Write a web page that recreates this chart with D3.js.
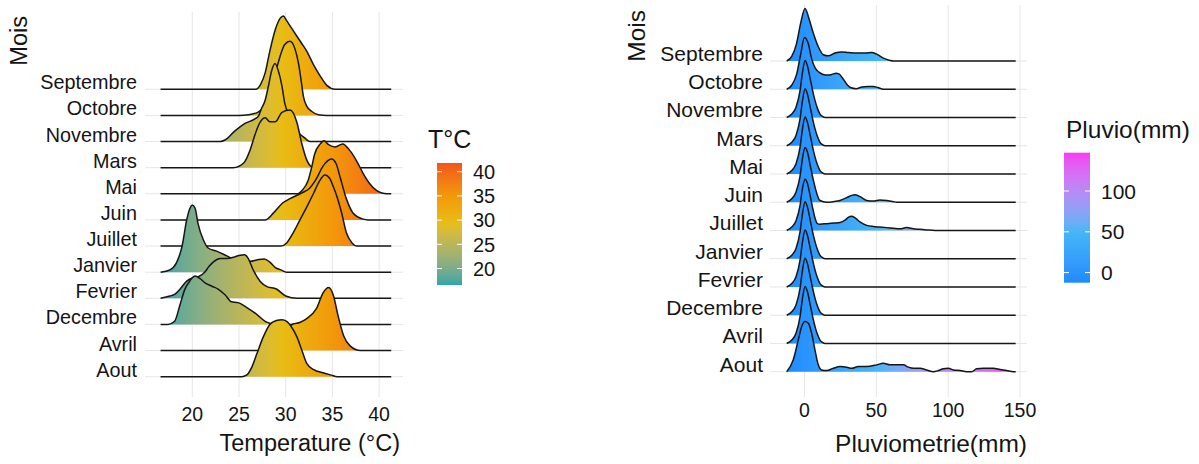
<!DOCTYPE html>
<html><head><meta charset="utf-8">
<script src="https://cdn.jsdelivr.net/npm/d3@7"></script>
<style>body{margin:0;background:#fff}svg{display:block;font-family:"Liberation Sans",Arial,sans-serif}</style>
</head><body><svg id="c" width="1199" height="464"></svg>
<script>
// ---------- DATA ----------
const months = ["Septembre","Octobre","Novembre","Mars","Mai","Juin","Juillet","Janvier","Fevrier","Decembre","Avril","Aout"];

// Temperature densities (relative), [°C, density]
const tSeptembre = [[26.8,0],[27.3,.06],[27.8,.21],[28.3,.49],[28.9,.77],[29.4,.91],[29.75,.94],[30.1,.88],[30.65,.78],[31.2,.68],[31.7,.59],[32.25,.49],[33,.31],[33.7,.17],[34.4,.05],[35.3,0]];
const tOctobre = [[25,0],[26,.01],[27,.04],[27.5,.09],[28,.21],[28.5,.38],[29,.59],[29.4,.76],[29.9,.91],[30.46,.95],[31,.85],[31.35,.68],[31.64,.46],[31.9,.24],[32.25,.12],[32.8,.05],[33.5,.01],[34.4,0]];
const tNovembre = [[23,0],[23.5,.02],[24.6,.14],[25.6,.23],[26.7,.29],[27.1,.33],[27.4,.42],[27.8,.53],[28.15,.71],[28.5,.91],[28.86,1],[29.2,.91],[29.6,.71],[29.9,.49],[30.5,.32],[31,.18],[31.5,.10],[32,.05],[32.6,0]];
const tMars = [[24.4,0],[25.5,.06],[26.2,.23],[26.7,.42],[27.25,.58],[27.8,.64],[28.3,.59],[28.9,.59],[29.6,.71],[30.46,.74],[31.2,.58],[31.7,.32],[32.25,.10],[32.8,.01],[33.3,0]];
const tMai = [[31.2,0],[31.8,.05],[32.4,.17],[32.8,.35],[33.1,.51],[33.7,.64],[34.1,.68],[34.6,.63],[35.3,.60],[36.1,.64],[36.9,.55],[37.6,.42],[38.3,.26],[39,.13],[39.75,.04],[40.3,.01],[40.8,0]];
const tJuin = [[27.8,0],[28.7,.09],[29.7,.22],[30.4,.27],[31.1,.31],[31.8,.35],[32.5,.40],[33.2,.51],[34,.69],[34.9,.78],[35.4,.72],[35.8,.56],[36.5,.27],[37.2,.09],[38.3,.01],[38.8,0]];
const tJuillet = [[29.5,0],[30.1,.04],[30.8,.17],[31.5,.33],[32.25,.50],[33,.68],[33.6,.83],[34.2,.91],[34.7,.87],[35.1,.76],[35.5,.63],[36,.42],[36.5,.17],[37.1,.04],[37.6,0]];
const tJanvier = [[16.6,0],[17.6,.03],[18.3,.12],[18.9,.33],[19.4,.67],[19.75,.82],[20,.86],[20.3,.82],[20.6,.63],[21.2,.41],[21.7,.31],[22.6,.27],[23.7,.21],[24.75,.15],[26.2,.14],[27,.16],[27.7,.17],[28.3,.13],[28.9,.06],[29.5,.03],[30.1,0]];
const tFevrier = [[16.6,0],[17.6,.03],[18.1,.05],[18.7,.12],[19.4,.22],[20,.26],[20.7,.28],[21.3,.33],[21.8,.41],[22.3,.47],[23,.51],[23.7,.51],[24.5,.53],[25,.55],[25.6,.56],[26,.51],[26.5,.37],[27.25,.22],[28,.15],[29,.12],[30,.03],[31.2,0]];
const tDecembre = [[17.4,0],[18.1,.04],[18.7,.26],[19.2,.45],[19.75,.56],[20.3,.62],[20.8,.59],[21.4,.53],[22.1,.49],[22.8,.45],[23.5,.38],[24.2,.29],[24.9,.28],[25.8,.22],[26.9,.13],[27.8,.04],[28.5,.01],[29,0]];
const tAvril = [[27,0],[28,.08],[29,.19],[30,.28],[30.8,.34],[31.5,.36],[32.25,.41],[33.3,.54],[34,.74],[34.6,.81],[35.1,.71],[35.6,.45],[36.2,.19],[36.9,.06],[38,0]];
const tAout = [[25.3,0],[25.8,.02],[26.4,.13],[26.9,.29],[27.6,.51],[28.3,.67],[29,.72],[29.6,.73],[30.1,.71],[30.6,.64],[31.2,.51],[31.7,.35],[32.25,.17],[33,.09],[34,.05],[34.9,.02],[35.5,0]];
const tempCurves = [tSeptembre,tOctobre,tNovembre,tMars,tMai,tJuin,tJuillet,tJanvier,tFevrier,tDecembre,tAvril,tAout];
const tempRange = [16.6, 41.3];
const tempTicks = [20,25,30,35,40];
const tempLegendTicks = [20,25,30,35,40];
const tempColorDomain = [16.6, 29.5, 35, 41.8];

// Rainfall densities (relative), [mm, density]
const pSeptembre = [[-12.4,0],[-8.9,.08],[-5.5,.31],[-2.7,.66],[0.35,.92],[3.4,.72],[6.1,.49],[9.6,.25],[13.1,.11],[16.6,.09],[21.2,.14],[25.9,.16],[30.5,.15],[36.3,.14],[42.1,.14],[46.8,.15],[50.2,.12],[54.9,.05],[59.5,.01],[62,0]];
const pOctobre = [[-12.4,0],[-8.9,.07],[-5.5,.26],[-2.7,.61],[0,.91],[2.5,.81],[5,.53],[7.5,.37],[10,.30],[13,.26],[16,.25],[19,.26],[22,.28],[24,.27],[26,.21],[28,.14],[30,.07],[32,.03],[36,.01],[40,.04],[44,.05],[48,.05],[51,.03],[55,0]];
const pNovembre = [[-12.4,0],[-8.9,.06],[-5.9,.18],[-3.1,.47],[-1.4,.79],[0.4,1],[2,.91],[3.8,.70],[5.5,.49],[7.3,.30],[9,.16],[10.8,.06],[12.5,.02],[14.3,0]];
const pMars = [[-12.4,0],[-8.9,.06],[-5.9,.18],[-3.1,.47],[-1.4,.79],[0.4,1],[2,.91],[3.8,.70],[5.5,.49],[7.3,.30],[9,.16],[10.8,.06],[12.5,.02],[14.3,0]];
const pMai = [[-12.4,0],[-8.9,.06],[-5.9,.18],[-3.1,.47],[-1.4,.79],[0.4,1],[2,.91],[3.8,.70],[5.5,.49],[7.3,.30],[9,.16],[10.8,.06],[12.5,.02],[14.3,0]];
const pJuin = [[-12.4,0],[-8.9,.06],[-5.9,.18],[-3.1,.46],[-1.4,.77],[0.4,.96],[2,.88],[3.8,.67],[5.5,.46],[7.3,.27],[9,.12],[10.8,.03],[15.4,0],[20.1,.01],[24.7,.03],[29.4,.08],[32.8,.12],[35.2,.13],[39.8,.08],[43.3,.03],[47.9,.02],[52.5,.04],[57.2,.03],[61.8,.01],[64.2,0]];
const pJuillet = [[-12.4,0],[-8.9,.06],[-5.9,.17],[-3.1,.44],[-1.4,.74],[0.4,.90],[2,.83],[3.8,.63],[5.5,.42],[7.3,.22],[9,.12],[10.8,.11],[15.4,.12],[20.1,.13],[24.7,.14],[28.2,.18],[30.5,.23],[32.8,.25],[35.2,.22],[38.6,.15],[43.3,.09],[47.9,.07],[52.5,.06],[57.2,.05],[61.8,.04],[66.5,.03],[71.1,.05],[75.8,.03],[80.4,.02],[85,.01],[90.8,0]];
const pJanvier = [[-12.4,0],[-8.9,.06],[-5.9,.18],[-3.1,.47],[-1.4,.79],[0.4,1],[2,.91],[3.8,.70],[5.5,.49],[7.3,.30],[9,.16],[10.8,.06],[12.5,.02],[14.3,0]];
const pFevrier = [[-12.4,0],[-8.9,.06],[-5.9,.18],[-3.1,.47],[-1.4,.79],[0.4,1],[2,.91],[3.8,.70],[5.5,.49],[7.3,.30],[9,.16],[10.8,.06],[12.5,.02],[14.3,0]];
const pDecembre = [[-12.4,0],[-8.9,.06],[-5.9,.18],[-3.1,.47],[-1.4,.79],[0.4,1],[2,.91],[3.8,.70],[5.5,.49],[7.3,.30],[9,.16],[10.8,.06],[12.5,.02],[14.3,0]];
const pAvril = [[-12.4,0],[-8.9,.06],[-5.9,.18],[-3.1,.47],[-1.4,.79],[0.4,1],[2,.91],[3.8,.70],[5.5,.49],[7.3,.30],[9,.16],[10.8,.06],[12.5,.02],[14.3,0]];
const pAout = [[-12.4,0],[-7.8,.21],[-4.3,.56],[-2,.79],[0.35,.88],[2.7,.85],[5,.67],[7.3,.38],[9.6,.12],[11.9,.03],[15.4,.02],[20.1,.06],[24.7,.09],[29.4,.08],[32.8,.06],[37.5,.09],[43.3,.09],[50.2,.12],[54.9,.15],[59.5,.12],[64.2,.12],[68.8,.12],[72.3,.08],[75.8,.06],[80.4,.06],[85,.03],[89.7,0],[93.2,.02],[96.6,.05],[100.1,.06],[103.6,.03],[108.3,.02],[112.9,0],[116.4,0],[119.8,.05],[124.5,.06],[131.4,.06],[136.1,.04],[140.7,.02],[145.4,0]];
const rainCurves = [pSeptembre,pOctobre,pNovembre,pMars,pMai,pJuin,pJuillet,pJanvier,pFevrier,pDecembre,pAvril,pAout];
const rainRange = [-12.4, 147];
const rainTicks = [0,50,100,150];
const rainLegendTicks = [0,50,100];
const rainColorDomain = [-12.4, 50, 147];

// ---------- DRAWING ----------
const svg = d3.select("#c");
const defs = svg.append("defs");
const TXT = "#141414";

function gradient(id, color, dom, x1, x2, y1, y2) {
  const g = defs.append("linearGradient").attr("id", id).attr("gradientUnits", "userSpaceOnUse")
    .attr("x1", x1).attr("x2", x2).attr("y1", y1).attr("y2", y2);
  const lo = dom[0], hi = dom[dom.length - 1];
  d3.range(41).forEach(i => {
    const v = lo + (hi - lo) * i / 40;
    g.append("stop").attr("offset", i / 40).attr("stop-color", color(v));
  });
}

function panel(c) {
  const g = svg.append("g");
  // grid
  g.selectAll(".vg").data(c.ticks).join("line")
    .attr("x1", d => c.x(d)).attr("x2", d => c.x(d)).attr("y1", c.gridTop).attr("y2", c.gridBottom)
    .attr("stroke", "#e6e6e6").attr("stroke-width", 1);
  g.selectAll(".hg").data(months).join("line")
    .attr("x1", c.gridLeft).attr("x2", c.gridRight).attr("y1", d => c.y(d)).attr("y2", d => c.y(d))
    .attr("stroke", "#e6e6e6").attr("stroke-width", 1);

  // gradient for fill
  gradient(c.gradId, c.color, c.colorDomain, c.x(c.colorDomain[0]), c.x(c.colorDomain[c.colorDomain.length-1]), 0, 0);

  // ridges (top first so lower rows overlay)
  months.forEach((m, i) => {
    const base = c.y(m);
    let pts = c.curves[i].slice();
    if (pts[0][0] > c.range[0]) pts.unshift([c.range[0], 0]);
    if (pts[pts.length-1][0] < c.range[1]) pts.push([c.range[1], 0]);
    const area = d3.area().x(d => c.x(d[0])).y0(base).y1(d => base - d[1] * c.H).curve(d3.curveMonotoneX);
    const line = d3.line().x(d => c.x(d[0])).y(d => base - d[1] * c.H).curve(d3.curveMonotoneX);
    g.append("path").attr("d", area(pts)).attr("fill", `url(#${c.gradId})`);
    g.append("path").attr("d", line(pts)).attr("fill", "none").attr("stroke", "#161616").attr("stroke-width", 1.5).attr("stroke-linejoin", "round");
  });

  // y labels
  g.selectAll(".yl").data(months).join("text")
    .attr("x", c.labelX).attr("y", d => c.y(d)).attr("text-anchor", "end")
    .attr("font-size", c.labelSize).attr("fill", TXT).text(d => d);

  // x tick labels
  g.selectAll(".xl").data(c.ticks).join("text")
    .attr("x", d => c.x(d)).attr("y", c.tickY).attr("text-anchor", "middle")
    .attr("font-size", c.tickSize).attr("fill", TXT).text(d => d);

  // titles
  g.append("text").attr("x", c.xTitleX).attr("y", c.xTitleY).attr("text-anchor", "end")
    .attr("font-size", c.titleSize).attr("fill", TXT).text(c.xTitle);
  g.append("text").attr("transform", `translate(${c.yTitleX},${c.yTitleY}) rotate(-90)`).attr("text-anchor", "end")
    .attr("font-size", c.titleSize).attr("fill", TXT).text("Mois");

  // legend
  const L = c.legend;
  const ly = d3.scaleLinear().domain([c.colorDomain[0], c.colorDomain[c.colorDomain.length-1]]).range([L.y1, L.y0]);
  gradient(c.gradId + "v", c.color, c.colorDomain, 0, 0, L.y1, L.y0);
  g.append("text").attr("x", L.titleX).attr("y", L.titleY).attr("font-size", L.titleSize).attr("fill", TXT).text(L.title);
  g.append("rect").attr("x", L.x).attr("y", L.y0).attr("width", L.w).attr("height", L.y1 - L.y0).attr("fill", `url(#${c.gradId}v)`);
  L.ticks.forEach(t => {
    const yy = ly(t);
    g.append("line").attr("x1", L.x).attr("x2", L.x + 5).attr("y1", yy).attr("y2", yy).attr("stroke", "#fff").attr("stroke-width", 1);
    g.append("line").attr("x1", L.x + L.w - 5).attr("x2", L.x + L.w).attr("y1", yy).attr("y2", yy).attr("stroke", "#fff").attr("stroke-width", 1);
    g.append("text").attr("x", L.labelX).attr("y", yy).attr("dy", "0.36em").attr("font-size", L.labelSize).attr("fill", TXT).text(t);
  });
}

// Left panel: temperature
const xT = d3.scaleLinear().domain([20, 40]).range([192.3, 379.1]);
const yT = d3.scalePoint().domain(months).range([89.3, 376.7]);
const cT = d3.scaleLinear().domain(tempColorDomain).range(["#2aa6a8", "#e8bd14", "#f2980a", "#f2541a"]).interpolate(d3.interpolateLab);
panel({
  x: xT, y: yT, curves: tempCurves, range: tempRange, H: 78, color: cT, colorDomain: tempColorDomain, gradId: "gT",
  ticks: tempTicks, gridTop: 12, gridBottom: 397, gridLeft: 145, gridRight: 403,
  labelX: 137, labelSize: 19.8, tickY: 420.5, tickSize: 19.5,
  xTitle: "Temperature (°C)", xTitleX: 400, xTitleY: 451, yTitleX: 27, yTitleY: 16, titleSize: 23.5,
  legend: { title: "T°C", titleX: 428, titleY: 148, titleSize: 25, x: 437, w: 25, y0: 163, y1: 285,
            ticks: tempLegendTicks, labelX: 473, labelSize: 20 }
});

// Right panel: rainfall
const xP = d3.scaleLinear().domain([0, 150]).range([804.5, 1020]);
const yP = d3.scalePoint().domain(months).range([61, 371.7]);
const cP = d3.scaleLinear().domain(rainColorDomain).range(["#1c8bff", "#44b6f7", "#f53cf3"]).interpolate(d3.interpolateLab);
panel({
  x: xP, y: yP, curves: rainCurves, range: rainRange, H: 57, color: cP, colorDomain: rainColorDomain, gradId: "gP",
  ticks: rainTicks, gridTop: 5, gridBottom: 397, gridLeft: 770, gridRight: 1027,
  labelX: 763, labelSize: 21, tickY: 417, tickSize: 19.5,
  xTitle: "Pluviometrie(mm)", xTitleX: 1027, xTitleY: 452, yTitleX: 645, yTitleY: 10, titleSize: 24.5,
  legend: { title: "Pluvio(mm)", titleX: 1066, titleY: 138, titleSize: 24.5, x: 1064, w: 26, y0: 152.7, y1: 282.7,
            ticks: rainLegendTicks, labelX: 1101, labelSize: 21 }
});
</script></body></html>
